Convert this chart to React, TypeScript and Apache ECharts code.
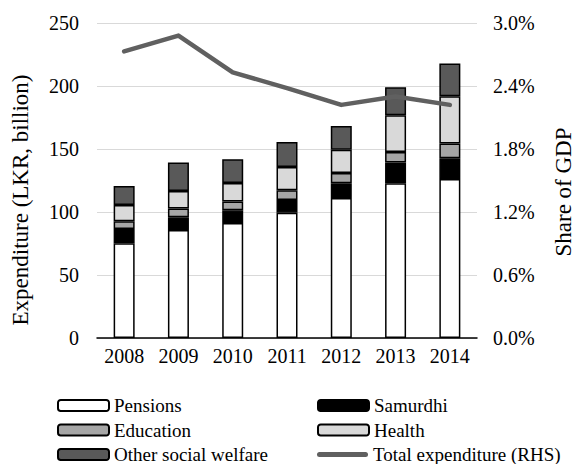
import React, { useEffect, useRef } from "react";
import * as echarts from "echarts";

// Sri Lanka social protection spending by component (LKR billion) and total as % of GDP
const years = ["2008", "2009", "2010", "2011", "2012", "2013", "2014"];
const pensions = [75.2, 85.7, 91.3, 99.5, 111.1, 122.8, 126.2];
const samurdhi = [11.3, 10.1, 10.0, 10.0, 11.7, 16.4, 16.4];
const education = [6.1, 6.9, 7.0, 7.7, 8.2, 8.4, 11.7];
const health = [13.0, 14.0, 14.7, 18.5, 18.5, 29.1, 37.5];
const otherWelfare = [15.0, 22.5, 18.8, 19.9, 18.8, 22.3, 26.0];
const totalShareGdp = [2.73, 2.88, 2.53, 2.38, 2.22, 2.3, 2.22];

const FONT = "Liberation Serif";
const LINE_NAME = "Total expenditure (RHS)";

const barSeries = [
  { name: "Pensions", data: pensions, color: "#ffffff" },
  { name: "Samurdhi", data: samurdhi, color: "#000000" },
  { name: "Education", data: education, color: "#a6a6a6" },
  { name: "Health", data: health, color: "#d9d9d9" },
  { name: "Other social welfare", data: otherWelfare, color: "#595959" },
];

// legend layout: two columns, three rows
const legendSlots = [
  { name: "Pensions", left: 57, row: 0 },
  { name: "Samurdhi", left: 317, row: 0 },
  { name: "Education", left: 57, row: 1 },
  { name: "Health", left: 317, row: 1 },
  { name: "Other social welfare", left: 57, row: 2 },
  { name: LINE_NAME, left: 317, row: 2 },
];
const rowCenters = [405, 429.5, 454];

export default function App() {
  const ref = useRef<HTMLDivElement>(null);

  useEffect(() => {
    if (!ref.current) return;
    const chart = echarts.init(ref.current, null, { renderer: "svg" });
    const legendText = { fontFamily: FONT, fontSize: 19, color: "#000", lineHeight: 18 };
    chart.setOption({
      animation: false,
      backgroundColor: "#ffffff",
      textStyle: { fontFamily: FONT },
      grid: { left: 97, right: 97, top: 23, bottom: 126 },
      legend: legendSlots.map((slot) => {
        const isLine = slot.name === LINE_NAME;
        return {
          left: slot.left,
          top: rowCenters[slot.row] - 9,
          itemWidth: 51,
          itemHeight: isLine ? 5 : 11,
          itemGap: 0,
          padding: 0,
          textStyle: legendText,
          data: [
            isLine
              ? {
                  name: slot.name,
                  icon: "path://M2.5,0 L48.5,0 A2.5,2.5 0 0 1 48.5,5 L2.5,5 A2.5,2.5 0 0 1 2.5,0 Z",
                  itemStyle: { color: "#606060", borderWidth: 0 },
                }
              : { name: slot.name },
          ],
        };
      }),
      xAxis: {
        type: "category",
        data: years,
        axisLine: { lineStyle: { color: "#000", width: 1.5 } },
        axisTick: { show: false },
        axisLabel: { fontFamily: FONT, fontSize: 20, color: "#000", margin: 8 },
      },
      yAxis: [
        {
          type: "value",
          min: 0,
          max: 250,
          interval: 50,
          axisLine: { show: false },
          axisTick: { show: false },
          splitLine: { lineStyle: { color: "#d9d9d9", width: 1 } },
          axisLabel: { fontFamily: FONT, fontSize: 20, color: "#000", margin: 18 },
        },
        {
          type: "value",
          min: 0,
          max: 3,
          interval: 0.6,
          axisLine: { show: false },
          axisTick: { show: false },
          splitLine: { show: false },
          axisLabel: {
            fontFamily: FONT,
            fontSize: 20,
            color: "#000",
            margin: 16,
            formatter: (v: number) => v.toFixed(1) + "%",
          },
        },
      ],
      graphic: [
        {
          type: "text",
          x: 20,
          y: 200,
          rotation: Math.PI / 2,
          style: {
            text: "Expenditure (LKR, billion)",
            fontFamily: FONT,
            fontSize: 23,
            fill: "#000",
            align: "center",
            verticalAlign: "middle",
          },
        },
        {
          type: "text",
          x: 563,
          y: 192,
          rotation: Math.PI / 2,
          style: {
            text: "Share of GDP",
            fontFamily: FONT,
            fontSize: 23,
            fill: "#000",
            align: "center",
            verticalAlign: "middle",
          },
        },
      ],
      series: [
        ...barSeries.map((s) => ({
          name: s.name,
          type: "bar",
          stack: "spending",
          barWidth: 21,
          data: s.data,
          itemStyle: { color: s.color, borderColor: "#000", borderWidth: 1.5 },
        })),
        {
          name: LINE_NAME,
          type: "line",
          yAxisIndex: 1,
          data: totalShareGdp,
          symbol: "none",
          lineStyle: { color: "#606060", width: 4.5, cap: "round", join: "round" },
          itemStyle: { color: "#606060" },
        },
      ],
    });
    return () => chart.dispose();
  }, []);

  return (
    <div
      ref={ref}
      style={{ position: "fixed", left: 0, top: 0, width: 574, height: 464 }}
    />
  );
}
